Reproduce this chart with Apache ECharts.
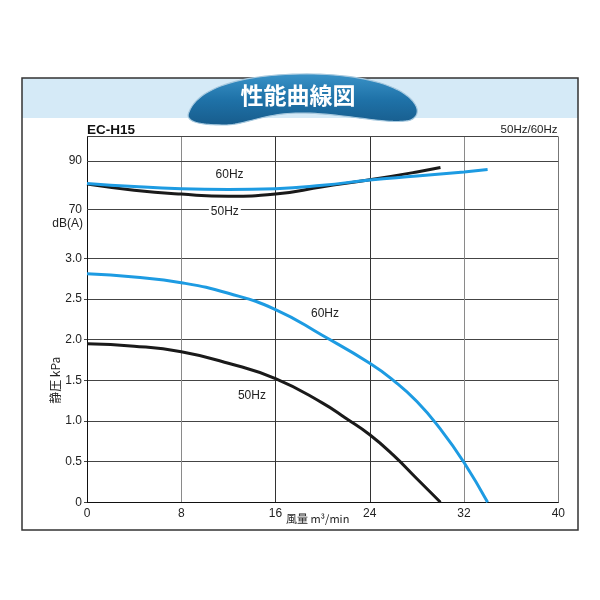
<!DOCTYPE html>
<html><head><meta charset="utf-8">
<script src="https://cdn.jsdelivr.net/npm/echarts@6/dist/echarts.min.js"></script>
<style>html,body{margin:0;padding:0;background:#fff}#c{width:600px;height:600px}</style>
</head><body><div id="c"></div>
<script>
// ---- data ----
const flow60 = [0, 4, 8, 12, 16, 20, 24, 26, 28, 30, 32, 34];
const pres60 = [2.81, 2.77, 2.70, 2.57, 2.37, 2.05, 1.71, 1.50, 1.24, 0.90, 0.49, 0];
const flow50 = [0, 4, 8, 12, 16, 20, 22, 24, 26, 28, 30];
const pres50 = [1.95, 1.92, 1.85, 1.71, 1.52, 1.22, 1.03, 0.83, 0.58, 0.29, 0];
const noiseFlow60 = [0, 4, 8, 12, 16, 20, 24, 28, 32, 34];
const noise60 = [80.8, 79.5, 78.6, 78.3, 78.6, 80.0, 82.2, 83.8, 85.5, 86.5];
const noiseFlow50 = [0, 4, 8, 12, 16, 20, 24, 28, 30];
const noise50 = [80.5, 78.0, 76.4, 75.5, 76.4, 79.4, 82.3, 85.5, 87.3];
const xTicks = [0, 8, 16, 24, 32, 40];
const pressureTicks = [0, 0.5, 1.0, 1.5, 2.0, 2.5, 3.0];
const dBTicks = [70, 90];
const dBRange = [50, 100];

const zip = (a, b) => a.map((v, i) => [v, b[i]]);
const BLUE = '#1d9be2', BLACK = '#1a1a1a', TXT = '#222';
const FONT = '"Liberation Sans", Arial, sans-serif';

// banner outline (decoration) sampled from cubic bezier segments
function bannerPoints() {
  const segs = [
    [[189,112],[198,88],[240,75],[300,74]],
    [[300,74],[355,73],[405,84],[416,106]],
    [[416,106],[420,114],[414,121],[405,121]],
    [[405,121],[385,124],[340,113],[300,113]],
    [[300,113],[265,113],[245,125],[225,125]],
    [[225,125],[200,125],[184,122],[189,112]]
  ];
  const pts = [];
  segs.forEach(s => {
    for (let i = 0; i < 24; i++) {
      const t = i / 24, u = 1 - t;
      const a = u*u*u, b = 3*u*u*t, c = 3*u*t*t, d = t*t*t;
      pts.push([a*s[0][0]+b*s[1][0]+c*s[2][0]+d*s[3][0], a*s[0][1]+b*s[1][1]+c*s[2][1]+d*s[3][1]]);
    }
  });
  return pts;
}

const chart = echarts.init(document.getElementById('c'), null, {renderer: 'canvas'});
const xStep = xTicks[1] - xTicks[0];
const vColors = ['#222', '#8a8a8a', '#333', '#333', '#8a8a8a', '#777'];

function hzLabel(coord, text, bg) {
  return {
    coord: coord, symbol: 'rect', symbolSize: 1,
    itemStyle: {color: 'rgba(0,0,0,0)'},
    label: {show: true, position: 'inside', formatter: text, color: TXT, fontSize: 12, fontFamily: FONT,
      backgroundColor: bg || 'transparent', padding: [0, 2]}
  };
}

chart.setOption({
  animation: false,
  textStyle: {fontFamily: FONT},
  grid: [
    {left: 87, right: 41.7, top: 136.7, bottom: 341.7},
    {left: 87, right: 41.7, top: 258.3, bottom: 97.7}
  ],
  xAxis: [
    {type: 'value', gridIndex: 0, min: xTicks[0], max: xTicks[xTicks.length - 1], interval: xStep,
      axisLabel: {show: false}, axisLine: {show: false}, axisTick: {show: false},
      splitLine: {show: true, lineStyle: {color: vColors, width: 1}}},
    {type: 'value', gridIndex: 1, min: xTicks[0], max: xTicks[xTicks.length - 1], interval: xStep,
      axisLabel: {color: TXT, fontSize: 12, margin: 5, fontFamily: FONT},
      axisLine: {show: true, lineStyle: {color: '#111', width: 1}}, axisTick: {show: false},
      splitLine: {show: true, lineStyle: {color: vColors, width: 1}},
      name: '風量 m³/min', nameLocation: 'middle', nameGap: 11, nameMoveOverlap: false,
      nameTextStyle: {color: TXT, fontSize: 11, fontFamily: '"Noto Sans CJK JP", ' + FONT, padding: [0, 10, 0, 0]}}
  ],
  yAxis: [
    {type: 'value', gridIndex: 0, min: dBRange[0], max: dBRange[1], interval: 10,
      axisLabel: {color: TXT, fontSize: 12, margin: 5, fontFamily: FONT,
        formatter: v => dBTicks.includes(v) ? String(v) : ''},
      axisLine: {show: true, lineStyle: {color: '#111'}}, axisTick: {show: false},
      splitLine: {show: false}},
    {type: 'value', gridIndex: 1, min: pressureTicks[0], max: pressureTicks[pressureTicks.length - 1],
      interval: pressureTicks[1] - pressureTicks[0],
      axisLabel: {color: TXT, fontSize: 12, margin: 5, fontFamily: FONT,
        formatter: v => v === 0 ? '0' : v.toFixed(1)},
      axisLine: {show: true, lineStyle: {color: '#111'}},
      axisTick: {show: true, length: 3, lineStyle: {color: '#444'}},
      splitLine: {show: true, lineStyle: {color: '#444', width: 1}},
      name: '静圧 kPa', nameLocation: 'middle', nameRotate: 90, nameGap: 26, nameMoveOverlap: false,
      nameTextStyle: {color: TXT, fontSize: 12, fontFamily: '"Noto Sans CJK JP", ' + FONT}}
  ],
  series: [
    {type: 'line', xAxisIndex: 0, yAxisIndex: 0, data: [], silent: true,
      markLine: {silent: true, symbol: 'none', label: {show: false},
        lineStyle: {color: '#444', width: 1, type: 'solid'},
        data: dBTicks.concat([dBRange[1]]).map(v => ({yAxis: v}))}},
    {type: 'line', name: '60Hz dB', xAxisIndex: 0, yAxisIndex: 0, data: zip(noiseFlow60, noise60),
      smooth: 0.5, showSymbol: false, lineStyle: {color: BLUE, width: 3}, z: 3,
      markPoint: {data: [hzLabel([12.1, 84.2], '60Hz')]}},
    {type: 'line', name: '50Hz dB', xAxisIndex: 0, yAxisIndex: 0, data: zip(noiseFlow50, noise50),
      smooth: 0.5, showSymbol: false, lineStyle: {color: BLACK, width: 3}, z: 2,
      markPoint: {data: [hzLabel([11.7, 69.2], '50Hz', '#fff')]}},
    {type: 'line', name: '60Hz', xAxisIndex: 1, yAxisIndex: 1, data: zip(flow60, pres60),
      smooth: 0.5, showSymbol: false, lineStyle: {color: BLUE, width: 3}, z: 3,
      markPoint: {data: [hzLabel([20.2, 2.32], '60Hz')]}},
    {type: 'line', name: '50Hz', xAxisIndex: 1, yAxisIndex: 1, data: zip(flow50, pres50),
      smooth: 0.5, showSymbol: false, lineStyle: {color: BLACK, width: 3}, z: 2,
      markPoint: {data: [hzLabel([14.0, 1.31], '50Hz')]}}
  ],
  graphic: [
    {type: 'rect', z: -10, shape: {x: 22, y: 78, width: 556, height: 40}, style: {fill: '#d5eaf7'}},
    {type: 'rect', z: 100, shape: {x: 22, y: 78, width: 556, height: 452},
      style: {fill: 'none', stroke: '#333', lineWidth: 1.5}},
    {type: 'polygon', z: 110,
      shape: {points: bannerPoints()},
      style: {
        fill: {type: 'linear', x: 0, y: 0, x2: 0, y2: 1, colorStops: [
          {offset: 0, color: '#3a93c8'}, {offset: 0.5, color: '#1f72a8'}, {offset: 1, color: '#175c8c'}]},
        stroke: '#a7c9df', lineWidth: 1.2}},
    {type: 'text', z: 111, x: 298, y: 95,
      style: {text: '性能曲線図', fill: '#fff', fontSize: 23, fontWeight: 'bold',
        fontFamily: '"Noto Sans CJK JP", sans-serif', align: 'center', verticalAlign: 'middle'}},
    {type: 'text', x: 87, y: 130,
      style: {text: 'EC-H15', fill: '#111', fontSize: 13.5, fontWeight: 'bold', fontFamily: FONT,
        align: 'left', verticalAlign: 'middle'}},
    {type: 'text', x: 557.5, y: 130,
      style: {text: '50Hz/60Hz', fill: TXT, fontSize: 11.5, fontFamily: FONT, align: 'right', verticalAlign: 'middle'}},
    {type: 'text', x: 83, y: 224,
      style: {text: 'dB(A)', fill: TXT, fontSize: 12, fontFamily: FONT, align: 'right', verticalAlign: 'middle'}}
  ]
});
</script>
</body></html>
